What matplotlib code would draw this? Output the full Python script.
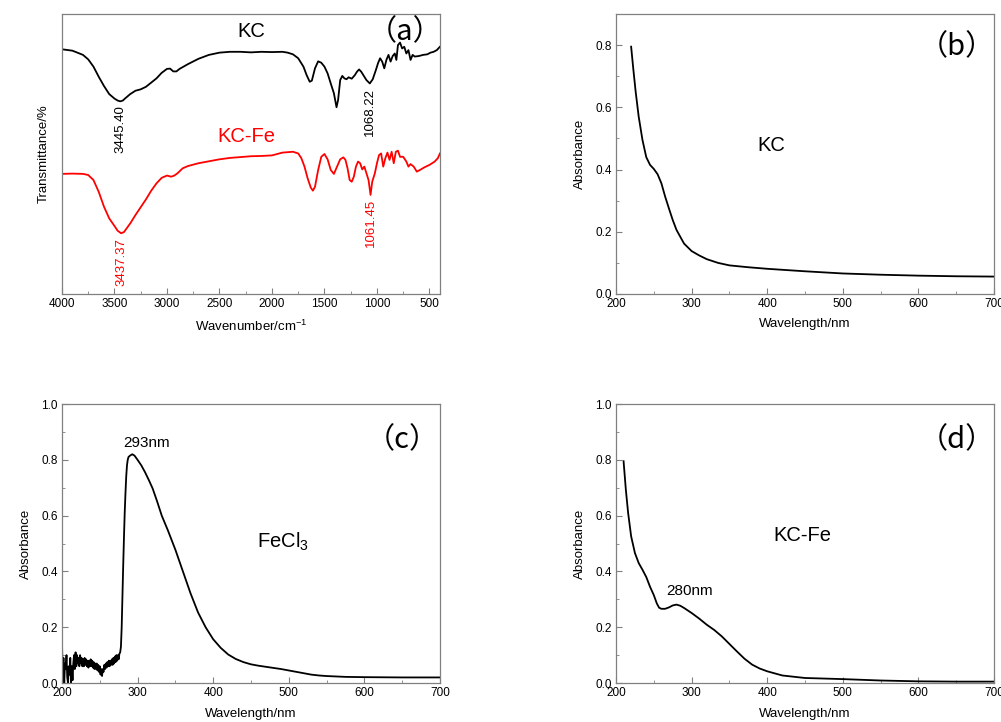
import numpy as np
import matplotlib
matplotlib.use("Agg")
import matplotlib.pyplot as plt
from matplotlib.ticker import MultipleLocator, FormatStrFormatter

plt.rcParams['font.family'] = ['Liberation Sans', 'Noto Sans CJK SC', 'DejaVu Sans']
plt.rcParams['mathtext.fontset'] = 'custom'
plt.rcParams['mathtext.rm'] = 'Liberation Sans'
plt.rcParams['mathtext.it'] = 'Liberation Sans'

# --- (a) FTIR spectra, wavenumber in cm-1, transmittance in arbitrary units
ir_kc_x = [4000, 3900, 3800, 3750, 3700, 3650, 3600, 3550, 3500, 3470, 3445, 3420, 3400, 3350,
           3300, 3250, 3200, 3150, 3100, 3050, 3000, 2970, 2940, 2910, 2880, 2800, 2700, 2600,
           2500, 2400, 2300, 2200, 2100, 2000, 1900, 1850, 1800, 1750, 1700, 1670, 1640, 1620,
           1590, 1560, 1530, 1500, 1470, 1440, 1410, 1385, 1370, 1350, 1330, 1310, 1290, 1270,
           1240, 1210, 1190, 1170, 1150, 1130, 1100, 1068, 1040, 1010, 990, 970, 950, 930, 910,
           890, 870, 850, 830, 815, 800, 780, 760, 740, 720, 700, 680, 660, 640, 600, 560, 520,
           490, 460, 430, 400]
ir_kc_y = [87.4, 86.9, 85.4, 83.8, 81.2, 77.6, 74.3, 71.4, 69.8, 69.1, 68.8, 69.1, 69.8, 71.4,
           72.6, 73.1, 74.0, 75.5, 77.0, 79.0, 80.4, 80.5, 79.5, 79.5, 80.4, 82.1, 84.0, 85.4,
           86.2, 86.5, 86.5, 86.3, 86.5, 86.4, 86.5, 86.2, 85.6, 84.2, 81.2, 78.2, 75.8, 76.2,
           80.6, 83.1, 82.6, 81.2, 78.8, 75.2, 71.7, 66.7, 69.3, 76.4, 77.9, 77.0, 76.7, 77.4,
           76.9, 78.2, 79.4, 80.2, 79.4, 78.2, 76.4, 75.2, 76.7, 80.0, 82.4, 84.2, 83.0, 80.6,
           83.6, 85.4, 83.0, 85.0, 85.9, 83.6, 88.9, 89.8, 87.7, 88.3, 85.9, 87.1, 83.6, 85.4,
           84.8, 85.0, 85.4, 85.6, 86.2, 86.5, 87.1, 88.3]

ir_fe_x = [4000, 3900, 3800, 3750, 3700, 3650, 3600, 3550, 3500, 3470, 3437, 3410, 3400, 3350,
           3300, 3250, 3200, 3150, 3100, 3050, 3000, 2960, 2930, 2900, 2850, 2800, 2700, 2600,
           2500, 2400, 2300, 2200, 2100, 2000, 1900, 1800, 1750, 1720, 1690, 1660, 1630, 1610,
           1590, 1560, 1530, 1500, 1470, 1440, 1410, 1380, 1350, 1320, 1300, 1280, 1260, 1240,
           1220, 1200, 1180, 1160, 1140, 1120, 1100, 1080, 1061, 1045, 1020, 1000, 980, 960,
           940, 920, 900, 880, 860, 840, 820, 800, 780, 750, 720, 700, 680, 650, 620, 590, 550,
           500, 450, 420, 400]
ir_fe_y = [42.9, 43.0, 42.9, 42.5, 40.7, 36.5, 31.2, 27.0, 24.3, 22.6, 21.7, 22.1, 22.6, 25.2,
           28.2, 31.0, 33.8, 36.9, 39.5, 41.5, 42.3, 41.9, 42.3, 43.1, 44.9, 45.7, 46.7, 47.4,
           48.1, 48.6, 48.9, 49.2, 49.3, 49.5, 50.5, 50.8, 50.2, 48.5, 45.5, 41.3, 38.0, 36.9,
           38.3, 44.3, 49.0, 50.0, 48.1, 44.3, 42.9, 45.5, 48.1, 48.8, 47.9, 44.9, 40.7, 40.1,
           41.9, 45.5, 47.3, 46.7, 44.5, 45.5, 43.1, 40.7, 35.4, 40.1, 43.1, 46.7, 49.6, 50.2,
           45.5, 48.5, 50.5, 47.9, 50.8, 46.7, 50.8, 51.2, 49.0, 49.0, 47.3, 45.5, 46.4, 45.5,
           43.7, 44.3, 45.2, 46.1, 47.3, 48.5, 50.2]

# --- (b) UV-vis of KC
uv_kc_x = [220, 223, 226, 230, 235, 240, 245, 250, 255, 260, 265, 270, 275, 280, 290, 300, 310,
           320, 335, 350, 375, 400, 450, 500, 550, 600, 650, 700]
uv_kc_y = [0.795, 0.72, 0.65, 0.57, 0.495, 0.44, 0.415, 0.402, 0.385, 0.356, 0.313, 0.275,
           0.238, 0.206, 0.162, 0.138, 0.124, 0.112, 0.1, 0.092, 0.086, 0.081, 0.073, 0.066,
           0.062, 0.059, 0.057, 0.056]

# --- (c) UV-vis of FeCl3 (noisy below 280 nm)
uv_fecl_x = list(range(200, 279)) + [279, 280, 281, 282, 283, 284, 285, 286, 287, 288, 290, 293,
                                     296, 300, 305, 310, 315, 320, 326, 332, 340, 350, 360, 370,
                                     380, 390, 400, 410, 420, 430, 440, 450, 460, 470, 480, 490,
                                     500, 510, 520, 530, 540, 550, 575, 600, 650, 700]
uv_fecl_y = [0.15, 0.02, 0.09, 0.0, 0.07, 0.05, 0.1, 0.02, 0.0, 0.06, 0.03, 0.09, 0.0, 0.06,
             0.01, 0.07, 0.1, 0.05, 0.11, 0.06, 0.1, 0.07, 0.09, 0.06, 0.1, 0.07, 0.09, 0.06,
             0.085, 0.06, 0.09, 0.065, 0.085, 0.06, 0.08, 0.055, 0.08, 0.06, 0.085, 0.06, 0.08,
             0.055, 0.075, 0.05, 0.07, 0.05, 0.07, 0.045, 0.065, 0.04, 0.06, 0.03, 0.05, 0.025,
             0.05, 0.04, 0.065, 0.05, 0.07, 0.055, 0.075, 0.06, 0.08, 0.06, 0.08, 0.065, 0.085,
             0.065, 0.09, 0.07, 0.095, 0.075, 0.1, 0.08, 0.1, 0.085, 0.105, 0.11, 0.13,
             0.2, 0.31, 0.42, 0.52, 0.61, 0.68, 0.74, 0.78, 0.8, 0.81, 0.815, 0.82,
             0.815, 0.8, 0.78, 0.755, 0.727, 0.697, 0.65, 0.6, 0.548, 0.478, 0.4, 0.322, 0.253,
             0.2, 0.157, 0.126, 0.102, 0.086, 0.075, 0.067, 0.062, 0.058, 0.054, 0.05, 0.045,
             0.04, 0.035, 0.03, 0.027, 0.025, 0.022, 0.021, 0.02, 0.02]

# --- (d) UV-vis of KC-Fe
uv_kcfe_x = [210, 213, 216, 220, 225, 230, 235, 240, 245, 250, 254, 257, 260, 265, 270, 275,
             280, 285, 290, 300, 310, 320, 330, 340, 350, 360, 370, 380, 390, 400, 420, 450,
             500, 550, 600, 650, 700]
uv_kcfe_y = [0.795, 0.693, 0.61, 0.526, 0.466, 0.43, 0.406, 0.38, 0.345, 0.315, 0.285, 0.27,
             0.266, 0.266, 0.271, 0.278, 0.281, 0.277, 0.269, 0.251, 0.231, 0.209, 0.19, 0.167,
             0.14, 0.113, 0.087, 0.066, 0.052, 0.042, 0.027, 0.018, 0.014, 0.009, 0.006, 0.005,
             0.005]

grey = '#808080'
tick_fs = 8.5
lab_fs = 9.5
name_fs = 14.5
panel_fs = 21
line_w = 1.3


def style(ax):
    for s in ax.spines.values():
        s.set_color(grey)
        s.set_linewidth(0.9)
    ax.tick_params(which='both', direction='in', top=False, right=False,
                   color=grey, labelsize=tick_fs, pad=3)
    ax.tick_params(which='major', length=4)
    ax.tick_params(which='minor', length=2.5)


def panel_tag(ax, x, y, s):
    ax.text(x, y, s, fontsize=panel_fs, ha='center', va='center',
            family=['Noto Sans CJK SC', 'Liberation Sans'])


fig = plt.figure(figsize=(10.01, 7.22), dpi=100)
ax_a = fig.add_axes([0.0619, 0.5928, 0.3776, 0.3878])
ax_b = fig.add_axes([0.6154, 0.5928, 0.3776, 0.3878])
ax_c = fig.add_axes([0.0619, 0.0540, 0.3776, 0.3864])
ax_d = fig.add_axes([0.6154, 0.0540, 0.3776, 0.3864])

# (a)
ax_a.plot(ir_kc_x, ir_kc_y, color='black', lw=line_w)
ax_a.plot(ir_fe_x, ir_fe_y, color='red', lw=line_w)
ax_a.set_xlim(4000, 400)
ax_a.set_ylim(0, 100)
ax_a.xaxis.set_major_locator(MultipleLocator(500))
ax_a.xaxis.set_minor_locator(MultipleLocator(250))
style(ax_a)
ax_a.set_yticks([])
ax_a.set_xlabel('Wavenumber/cm$^{-1}$', fontsize=lab_fs, labelpad=6)
ax_a.set_ylabel('Transmittance/%', fontsize=lab_fs, labelpad=9)
ax_a.text(2192, 93.6, 'KC', fontsize=name_fs, ha='center', va='center')
ax_a.text(2240, 56.1, 'KC-Fe', fontsize=name_fs, ha='center', va='center', color='red')
panel_tag(ax_a, 736, 93.6, '（a）')
ax_a.text(3445, 67.5, '3445.40', rotation=90, fontsize=lab_fs, ha='center', va='top')
ax_a.text(1068, 73.6, '1068.22', rotation=90, fontsize=lab_fs, ha='center', va='top')
ax_a.text(3437, 20.0, '3437.37', rotation=90, fontsize=lab_fs, ha='center', va='top', color='red')
ax_a.text(1061, 34.0, '1061.45', rotation=90, fontsize=lab_fs, ha='center', va='top', color='red')

# (b)
ax_b.plot(uv_kc_x, uv_kc_y, color='black', lw=line_w)
ax_b.set_xlim(200, 700)
ax_b.set_ylim(0, 0.9)
ax_b.text(406, 0.476, 'KC', fontsize=name_fs, ha='center', va='center')
panel_tag(ax_b, 651, 0.794, '（b）')

# (c)
ax_c.plot(uv_fecl_x, uv_fecl_y, color='black', lw=line_w)
ax_c.set_xlim(200, 700)
ax_c.set_ylim(0, 1.0)
ax_c.text(312, 0.86, '293nm', fontsize=11, ha='center', va='center')
ax_c.text(492, 0.505, 'FeCl$_3$', fontsize=name_fs, ha='center', va='center')
panel_tag(ax_c, 650, 0.871, '（c）')

# (d)
ax_d.plot(uv_kcfe_x, uv_kcfe_y, color='black', lw=line_w)
ax_d.set_xlim(200, 700)
ax_d.set_ylim(0, 1.0)
ax_d.text(297, 0.33, '280nm', fontsize=11, ha='center', va='center')
ax_d.text(447, 0.527, 'KC-Fe', fontsize=name_fs, ha='center', va='center')
panel_tag(ax_d, 651, 0.871, '（d）')

for ax in (ax_b, ax_c, ax_d):
    ax.xaxis.set_major_locator(MultipleLocator(100))
    ax.xaxis.set_minor_locator(MultipleLocator(50))
    ax.yaxis.set_major_locator(MultipleLocator(0.2))
    ax.yaxis.set_minor_locator(MultipleLocator(0.1))
    ax.yaxis.set_major_formatter(FormatStrFormatter('%.1f'))
    style(ax)
    ax.set_xlabel('Wavelength/nm', fontsize=lab_fs, labelpad=6)
    ax.set_ylabel('Absorbance', fontsize=lab_fs, labelpad=7)

fig.savefig('out.png', dpi=100)
